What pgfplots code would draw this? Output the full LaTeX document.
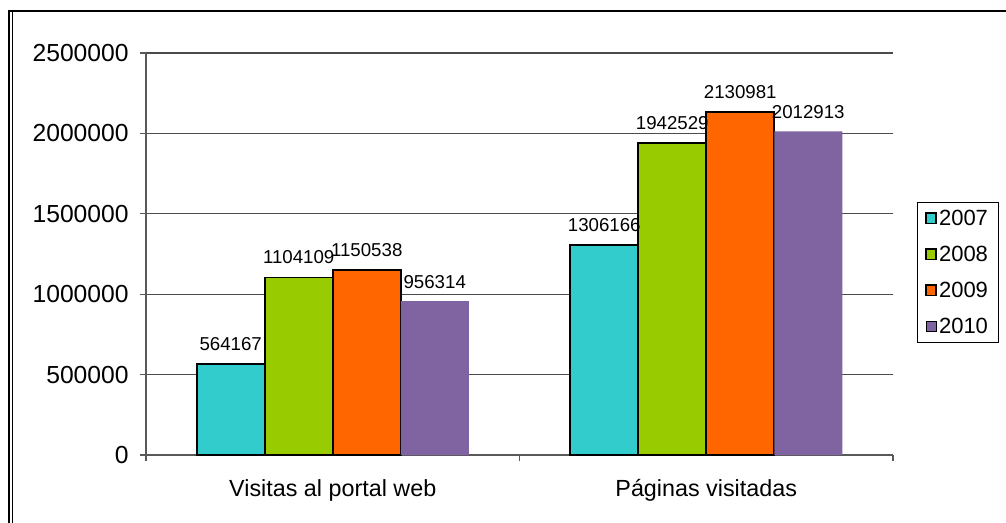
\documentclass[border=0pt]{standalone}
\usepackage{fontspec}
\setmainfont{Liberation Sans}
\usepackage{pgfplots}
\pgfplotsset{compat=1.18}
\definecolor{c2007}{HTML}{33CCCC}
\definecolor{c2008}{HTML}{99CC00}
\definecolor{c2009}{HTML}{FF6600}
\definecolor{c2010}{HTML}{8064A2}
\begin{document}
\begin{tikzpicture}[x=0.75pt,y=0.75pt]
\path[use as bounding box] (0,0) rectangle (1006,522);
% outer chart frame (right and bottom fall outside the picture)
\draw[line width=1.5pt] (8.5,-20) -- (8.5,511) -- (1030,511);
\draw[line width=0.6pt] (12,-20) -- (12,509.5);
\begin{axis}[
  at={(109.5pt,50.25pt)}, anchor=south west,
  scale only axis, width=560.25pt, height=301.5pt,
  ybar=0pt, bar width=51pt,
  xmin=-0.5, xmax=1.5, ymin=0, ymax=2500000,
  scaled y ticks=false,
  ytick={0,500000,1000000,1500000,2000000,2500000},
  yticklabels={0,500000,1000000,1500000,2000000,2500000},
  xtick={-0.5,0.5,1.5}, xticklabels={},
  extra x ticks={0,1},
  extra x tick labels={Visitas al portal web, Páginas visitadas},
  extra x tick style={major tick length=0pt,
    tick label style={font=\fontsize{17.5}{20}\selectfont, yshift=-15pt}},
  axis lines*=left,
  axis line style={black!65, line width=0.8pt},
  tick style={black!65, line width=0.8pt},
  tick align=outside, major tick length=4.5pt,
  ymajorgrids, grid style={black!70, line width=0.8pt},
  y tick label style={font=\fontsize{18.5}{20}\selectfont, xshift=-5pt},
  point meta=explicit symbolic,
  nodes near coords={\pgfplotspointmeta},
  nodes near coords style={font=\fontsize{14}{16}\selectfont, yshift=6pt},
  legend style={at={(1.032,0.629)}, anchor=north west, draw=black, fill=white,
    font=\fontsize{16.5}{19}\selectfont, row sep=11pt, inner xsep=6pt, inner ysep=4pt,
    nodes={inner sep=1.5pt}},
  legend cell align=left,
  legend image code/.code={\draw[#1] (0pt,-3.8pt) rectangle (7.5pt,3.8pt);},
]
\addplot[fill=c2007, draw=black, line width=1.4pt] coordinates {(0,564167) [564167] (1,1306166) [1306166]};
\addplot[fill=c2008, draw=black, line width=1.4pt] coordinates {(0,1104109) [1104109] (1,1942529) [1942529]};
\addplot[fill=c2009, draw=black, line width=1.4pt] coordinates {(0,1150538) [1150538] (1,2130981) [2130981]};
\addplot[fill=c2010, draw=none] coordinates {(0,956314) [956314] (1,2012913) [2012913]};
\legend{2007, 2008, 2009, 2010}
\end{axis}
\end{tikzpicture}
\end{document}
